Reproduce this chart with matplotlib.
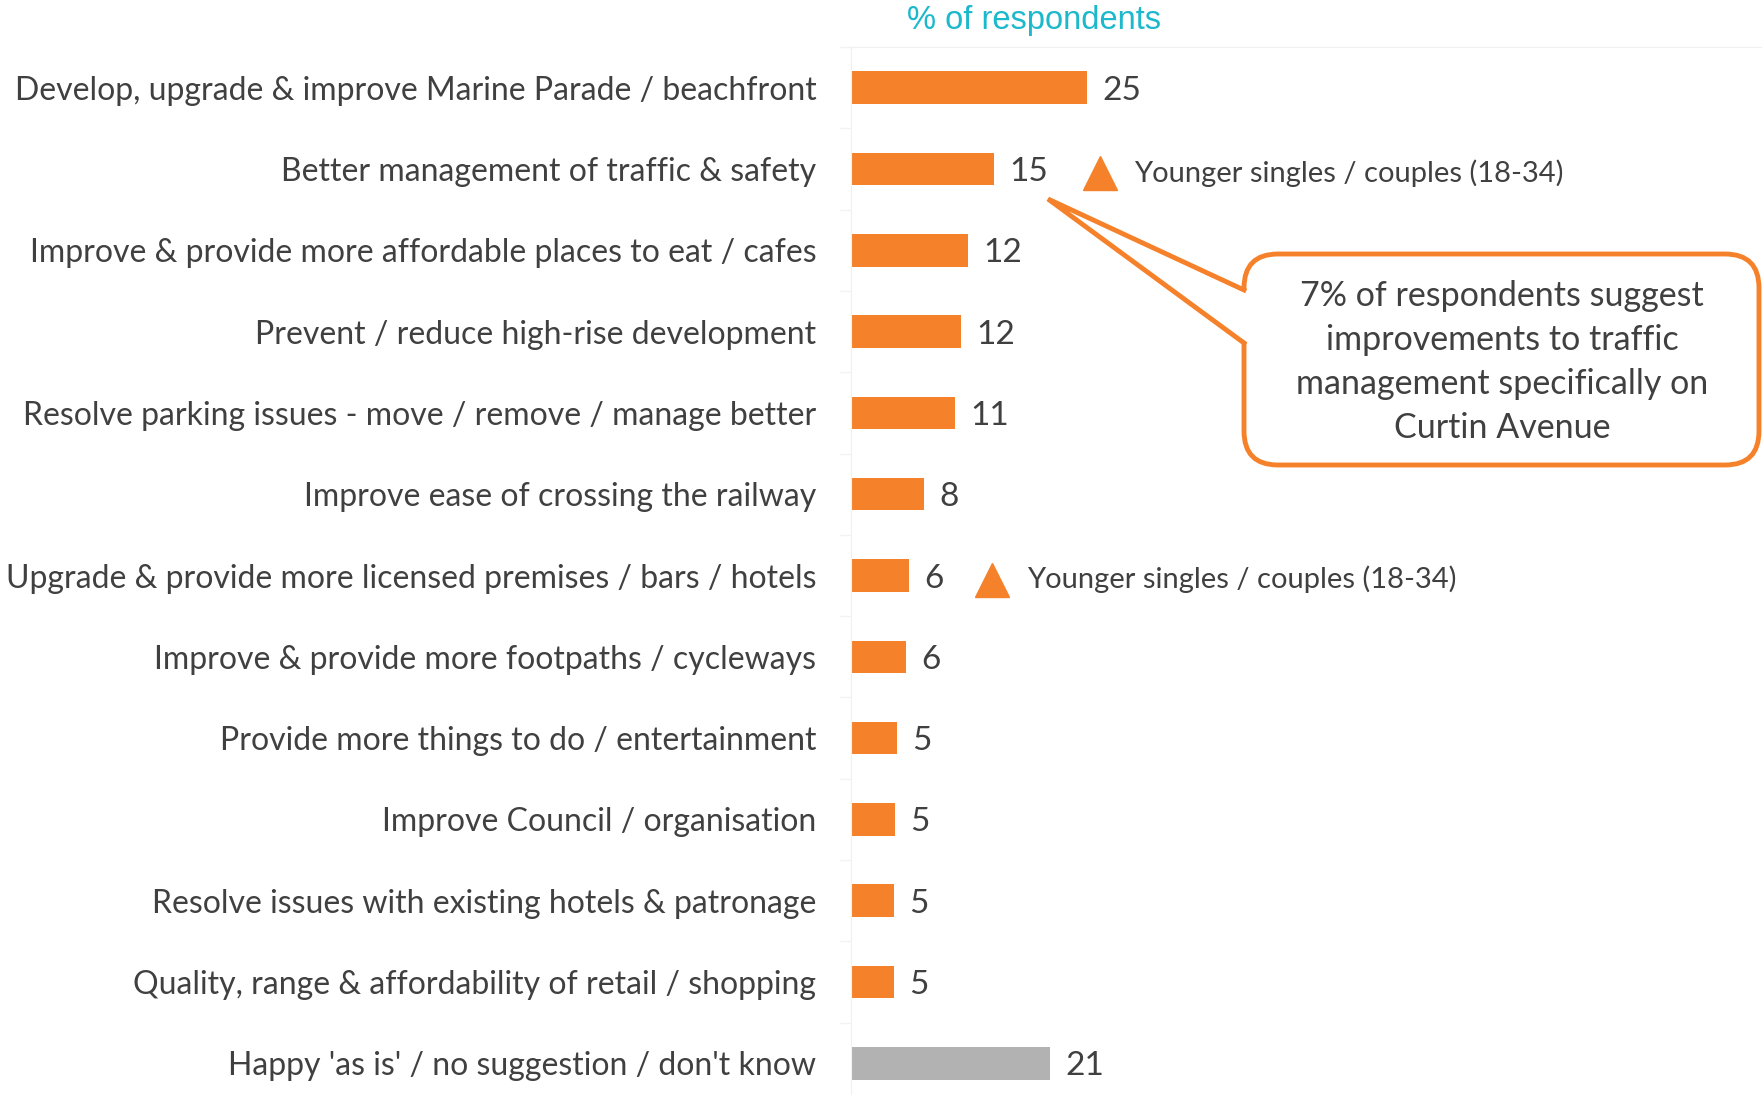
import numpy as np
import matplotlib
matplotlib.use("Agg")
import matplotlib.pyplot as plt
from matplotlib.patches import FancyBboxPatch, Polygon

categories = [
    "Develop, upgrade & improve Marine Parade / beachfront",
    "Better management of traffic & safety",
    "Improve & provide more affordable places to eat / cafes",
    "Prevent / reduce high-rise development",
    "Resolve parking issues - move / remove / manage better",
    "Improve ease of crossing the railway",
    "Upgrade & provide more licensed premises / bars / hotels",
    "Improve & provide more footpaths / cycleways",
    "Provide more things to do / entertainment",
    "Improve Council / organisation",
    "Resolve issues with existing hotels & patronage",
    "Quality, range & affordability of retail / shopping",
    "Happy 'as is' / no suggestion / don't know",
]
values = [24.9, 15.1, 12.3, 11.6, 11.0, 7.7, 6.1, 5.8, 4.8, 4.6, 4.5, 4.5, 21.0]
value_labels = ["25", "15", "12", "12", "11", "8", "6", "6", "5", "5", "5", "5", "21"]
flag_text = "Younger singles / couples (18-34)"
callout_text = ("7% of respondents suggest\nimprovements to traffic\n"
                "management specifically on\nCurtin Avenue")

ORANGE = "#F5822A"
GREY = "#B2B2B2"
TEXT = "#404040"
W, H = 1762, 1095

plt.rcParams["font.family"] = ["Lato", "DejaVu Sans"]
fig = plt.figure(figsize=(W / 100, H / 100), dpi=100)

# main bar axes, placed in pixel terms
left, top, bottom = 851, 47, 1104
ax = fig.add_axes([left / W, 1 - bottom / H, (W - left) / W, (bottom - top) / H])
y = np.arange(len(categories))
colors = [ORANGE] * (len(categories) - 1) + [GREY]
ax.barh(y, values, height=0.4, color=colors)
ax.set_xlim(0, 96)
ax.set_ylim(len(categories) - 0.5, -0.5)

for yi, v, lab in zip(y, values, value_labels):
    ax.text(v + 1.6, yi, lab, va="center_baseline", ha="left", fontsize=24, color=TEXT)

ax.set_yticks(y)
ax.set_yticklabels(categories, fontsize=23, color=TEXT)
for t in ax.get_yticklabels():
    t.set_verticalalignment("center_baseline")
ax.tick_params(axis="y", which="major", length=0, pad=25)
ax.set_yticks(np.arange(len(categories) + 1) - 0.5, minor=True)
ax.tick_params(axis="y", which="minor", length=8, color="#f2f2f2", width=1)
ax.set_xticks([])
for s in ["right", "bottom"]:
    ax.spines[s].set_visible(False)
ax.spines["left"].set_color("#f0f0f0")
ax.spines["top"].set_color("#f0f0f0")

# flags for sub-groups
for yi, xm, xt in [(1, 26.2, 29.8), (6, 14.9, 18.5)]:
    ax.plot(xm, yi + 0.05, marker="^", markersize=24, color=ORANGE, clip_on=False)
    ax.text(xt, yi + 0.02, flag_text, va="center_baseline", ha="left", fontsize=21, color=TEXT)

fig.text(1034 / W, 1 - 20 / H, "% of respondents", ha="center", va="center",
         fontsize=23.5, color="#1CB8CC", family=["Liberation Sans", "DejaVu Sans"])

# overlay in pixel coordinates for the callout
ov = fig.add_axes([0, 0, 1, 1], zorder=5)
ov.set_xlim(0, W)
ov.set_ylim(H, 0)
ov.axis("off")
ov.patch.set_alpha(0)

bx0, by0, bx1, by1 = 1244, 254, 1759, 465
box = FancyBboxPatch((bx0 + 34, by0 + 34), bx1 - bx0 - 68, by1 - by0 - 68,
                     boxstyle="round,pad=34", facecolor="white",
                     edgecolor=ORANGE, linewidth=3.5)
ov.add_patch(box)
tip = (1048, 199)
b1 = (bx0, 290)
b2 = (bx0, 343)
ov.add_patch(Polygon([tip, (b1[0] + 4, b1[1]), (b2[0] + 4, b2[1])],
                     closed=True, facecolor="white", edgecolor="none", zorder=3))
ov.plot([b1[0], tip[0], b2[0]], [b1[1], tip[1], b2[1]], color=ORANGE,
        linewidth=3.5, solid_joinstyle="miter", zorder=4)
ov.text(1502, 362, callout_text, ha="center", va="center", fontsize=24.5,
        color=TEXT, linespacing=1.45, zorder=6)

fig.savefig("out.png", dpi=100, facecolor="white")
